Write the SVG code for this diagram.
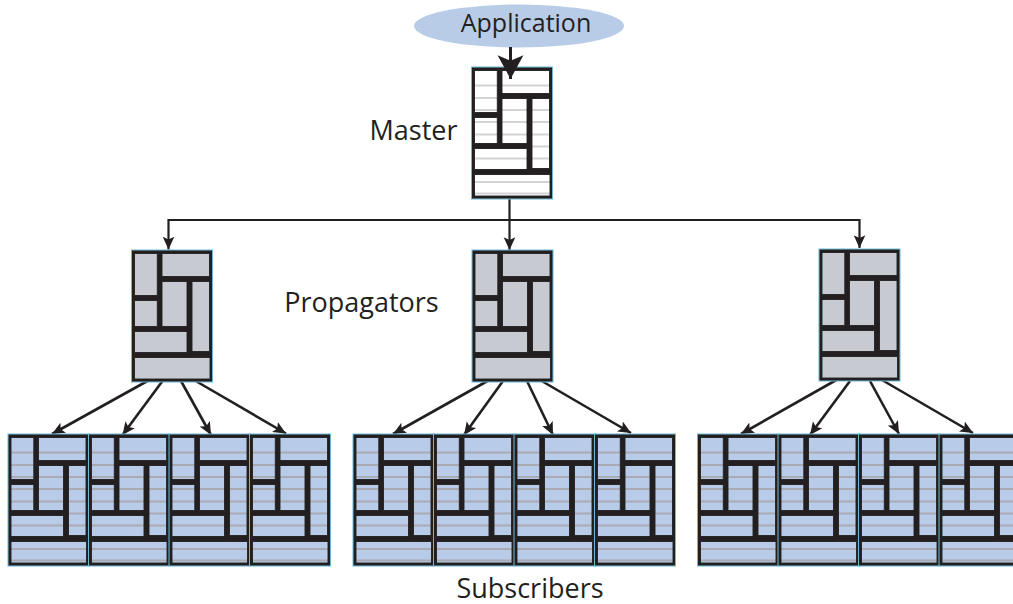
<svg xmlns="http://www.w3.org/2000/svg" width="1013" height="604" viewBox="0 0 1013 604">
<style>
text{font-family:"Open Sans","Noto Sans","Liberation Sans",sans-serif;font-size:27px;fill:#231f20;text-anchor:middle}
.line{fill:none;stroke:#231f20;stroke-width:2.2}
.fan{fill:none;stroke:#231f20;stroke-width:2.6}
.frame{fill:#231f20;fill-rule:evenodd;stroke:#231f20;stroke-width:.9}
.edge{fill:none;stroke:#6db8d4;stroke-width:1}
.bg{fill:var(--bg)}
.st{stroke:var(--st);stroke-width:2;fill:none}
.master{--bg:#ffffff;--st:#d2d3d5}
.prop{--bg:#c8cad2;--st:none}
.sub{--bg:#b8cbe8;--st:#a8abb3}
</style>
<defs>
<marker id="small" markerUnits="userSpaceOnUse" markerWidth="14" markerHeight="14" refX="11" refY="6" orient="auto" viewBox="0 0 12 12"><path d="M0 1L11 6L0 11L2.500 6Z" fill="#231f20"/></marker>
<marker id="big" markerUnits="userSpaceOnUse" markerWidth="26" markerHeight="28" refX="22" refY="13" orient="auto" viewBox="0 0 24 26"><path d="M0 1L22 13L0 25L5 13Z" fill="#231f20"/></marker>
<g id="block">
<rect class="bg" width="80" height="131"/>
<path class="st" d="M0 18H80M0 30.500H80M0 42.500H80M0 54.500H80M0 67H80M0 79H80M0 91H80M0 102.500H80M0 114.500H80M0 126H80"/>
<path class="frame" d="M0 0H80V131H0ZM2.500 3V45H25.300V3ZM30 3V26H77.500V3ZM2.500 50V76H25.300V50ZM30 31V76H55V31ZM60 31V101H77.500V31ZM2.500 81V102H55V81ZM2.500 107V128.500H78V107Z"/>
<rect class="edge" x="-.5" y="-.5" width="81" height="132"/>
</g>
</defs>
<g id="connectors">
<path class="line" d="M509.500 199V250" marker-end="url(#small)"/>
<path class="line" d="M509.500 220H168.500V249.500" marker-end="url(#small)"/>
<path class="line" d="M509.500 220H859.500V248" marker-end="url(#small)"/>
<path class="fan" d="M151 379L52 434" marker-end="url(#small)"/>
<path class="fan" d="M162.500 381L122.500 435" marker-end="url(#small)"/>
<path class="fan" d="M181 381L211 435" marker-end="url(#small)"/>
<path class="fan" d="M194 380L286 433.500" marker-end="url(#small)"/>
<path class="fan" d="M491 379L393 434" marker-end="url(#small)"/>
<path class="fan" d="M503 381L464 435" marker-end="url(#small)"/>
<path class="fan" d="M527 381L553 435" marker-end="url(#small)"/>
<path class="fan" d="M540 380L631 433" marker-end="url(#small)"/>
<path class="fan" d="M838 379L741 434" marker-end="url(#small)"/>
<path class="fan" d="M850 381L810 435" marker-end="url(#small)"/>
<path class="fan" d="M870 381L899 434" marker-end="url(#small)"/>
<path class="fan" d="M882 380L973 433" marker-end="url(#small)"/>
</g>
<g id="application"><ellipse cx="519" cy="26" rx="105" ry="21.500" fill="#b8cce8"/><text x="526" y="32" style="font-size:25px">Application</text></g>
<g id="master" class="master"><use href="#block" x="472" y="67.500"/></g>
<path id="app-arrow" class="line" style="stroke-width:3" d="M510.500 47V79" marker-end="url(#big)"/>
<text x="413.500" y="140">Master</text>
<g id="propagator-1" class="prop"><use href="#block" x="132" y="250.500"/></g>
<g id="propagator-2" class="prop"><use href="#block" x="472.500" y="250.500"/></g>
<g id="propagator-3" class="prop"><use href="#block" x="819.500" y="249.500"/></g>
<text x="361.500" y="312">Propagators</text>
<g id="subscriber-1" class="sub"><use href="#block" x="8.500" y="434.500"/></g>
<g id="subscriber-2" class="sub"><use href="#block" x="89" y="434.500"/></g>
<g id="subscriber-3" class="sub"><use href="#block" x="169.500" y="434.500"/></g>
<g id="subscriber-4" class="sub"><use href="#block" x="250" y="434.500"/></g>
<g id="subscriber-5" class="sub"><use href="#block" x="353.500" y="434.500"/></g>
<g id="subscriber-6" class="sub"><use href="#block" x="434" y="434.500"/></g>
<g id="subscriber-7" class="sub"><use href="#block" x="514.500" y="434.500"/></g>
<g id="subscriber-8" class="sub"><use href="#block" x="595" y="434.500"/></g>
<g id="subscriber-9" class="sub"><use href="#block" x="698" y="434.500"/></g>
<g id="subscriber-10" class="sub"><use href="#block" x="778.500" y="434.500"/></g>
<g id="subscriber-11" class="sub"><use href="#block" x="859" y="434.500"/></g>
<g id="subscriber-12" class="sub"><use href="#block" x="939.500" y="434.500"/></g>
<text x="530" y="598">Subscribers</text>
</svg>
